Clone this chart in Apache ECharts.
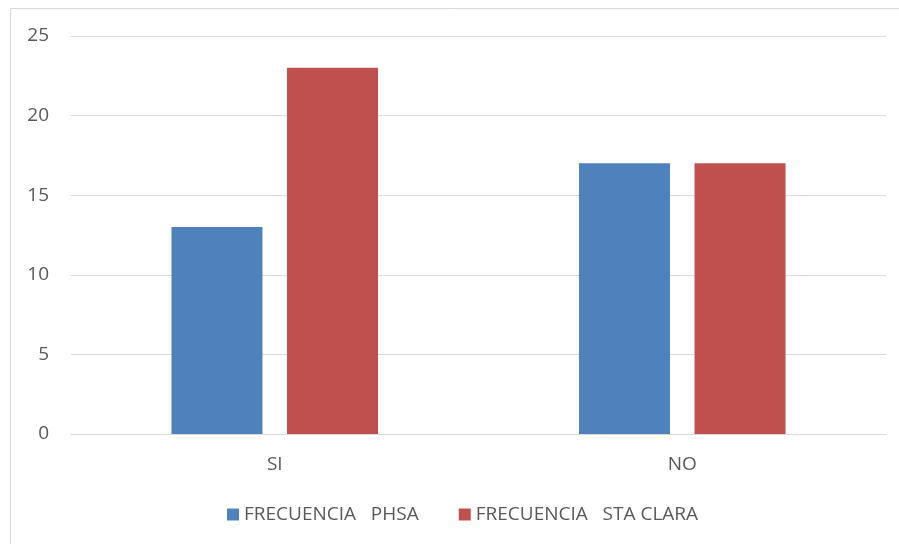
<!DOCTYPE html>
<html><head><meta charset="utf-8">
<script src="https://cdn.jsdelivr.net/npm/echarts@6/dist/echarts.min.js"></script>
<style>html,body{margin:0;padding:0;background:#fff}#c{width:899px;height:544px}</style>
</head><body><div id="c"></div>
<script>
const categories = ['SI', 'NO'];
const seriesNames = ['FRECUENCIA   PHSA', 'FRECUENCIA   STA CLARA'];
const phsa = [13, 17];
const staClara = [23, 17];
const yTicks = [0, 5, 10, 15, 20, 25];

const chart = echarts.init(document.getElementById('c'));
const font = 'Open Sans, Liberation Sans, sans-serif';
chart.setOption({
  animation: false,
  graphic: [{type: 'rect', shape: {x: 10.5, y: 8.5, width: 900, height: 560}, style: {fill: 'none', stroke: '#d9d9d9', lineWidth: 1}}],
  grid: {left: 71, right: 13, top: 36, bottom: 110},
  legend: {
    left: 222, top: 500, itemWidth: 12, itemHeight: 12, itemGap: 40, icon: 'rect',
    textStyle: {fontFamily: font, fontSize: 19, color: '#595959'},
    data: seriesNames
  },
  xAxis: {
    type: 'category', data: categories,
    axisLine: {lineStyle: {color: '#d9d9d9'}}, axisTick: {show: false},
    axisLabel: {fontFamily: font, fontSize: 19, color: '#595959', margin: 21}
  },
  yAxis: {
    type: 'value', min: yTicks[0], max: yTicks[yTicks.length - 1], interval: 5,
    axisLine: {show: false}, axisTick: {show: false},
    splitLine: {lineStyle: {color: '#d9d9d9'}},
    axisLabel: {fontFamily: font, fontSize: 19, color: '#595959', margin: 22}
  },
  series: [
    {name: seriesNames[0], type: 'bar', data: phsa, barWidth: 91, barGap: '27%', itemStyle: {color: '#4f81bd'}},
    {name: seriesNames[1], type: 'bar', data: staClara, barWidth: 91, barGap: '27%', itemStyle: {color: '#c0504d'}}
  ]
});
</script></body></html>
